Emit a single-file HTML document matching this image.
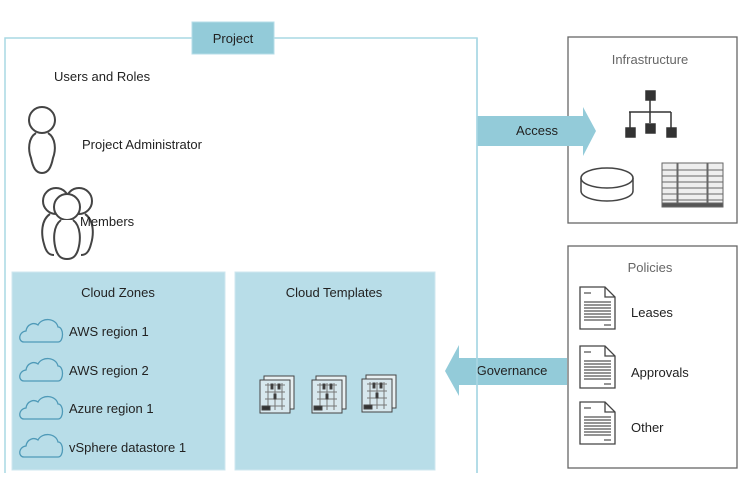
<!DOCTYPE html>
<html><head><meta charset="utf-8"><style>
body{margin:0;background:#fff}
svg text{font-family:"Liberation Sans",sans-serif;font-size:13px;fill:#222}
</style></head><body>
<svg width="748" height="473" viewBox="0 0 748 473" xmlns="http://www.w3.org/2000/svg">
<rect x="5" y="38" width="472" height="440" fill="none" stroke="#a9d8e4" stroke-width="1.5"/>
<rect x="192" y="22" width="82" height="32" fill="#93cbd9" stroke="#b5dde8"/>
<text x="233" y="43" text-anchor="middle">Project</text>
<text x="54" y="81">Users and Roles</text>
<g fill="none" stroke="#444" stroke-width="2">
<circle cx="42" cy="120" r="13"/>
<path d="M36 133 C28 138 28 150 31 158 C33 168 36 173 42 173 C48 173 51 168 53 158 C56 150 56 138 48 133"/>
<circle cx="56" cy="201" r="13"/><circle cx="79" cy="201" r="13"/>
<path d="M50 214 C41 220 41 234 44 244 C46 252 49 255 54 255"/>
<path d="M85 214 C94 220 94 234 91 244 C89 252 86 255 81 255"/>
<circle cx="67" cy="207" r="13" fill="#fff"/>
<path d="M61 220 C53 226 53 240 56 250 C58 256 61 259 67 259 C73 259 76 256 78 250 C81 240 81 226 73 220" fill="#fff"/>
</g>
<text x="82" y="149">Project Administrator</text>
<text x="80" y="226">Members</text>
<rect x="12" y="272" width="213" height="198" fill="#b8dde8" stroke="#cfe7ef"/>
<text x="118" y="297" text-anchor="middle">Cloud Zones</text>
<g fill="none" stroke="#4f9ab8" stroke-width="1.3">
<path id="cl" d="M24 342 C18 342 18 332 26 331 C27 324 34 322 38 325 C42 317 56 318 58 327 C64 327 64 342 58 342 Z"/>
<use href="#cl" y="39"/><use href="#cl" y="77"/><use href="#cl" y="115"/>
</g>
<text x="69" y="336">AWS region 1</text>
<text x="69" y="375">AWS region 2</text>
<text x="69" y="413">Azure region 1</text>
<text x="69" y="452">vSphere datastore 1</text>
<rect x="235" y="272" width="200" height="198" fill="#b8dde8" stroke="#cfe7ef"/>
<text x="334" y="297" text-anchor="middle">Cloud Templates</text>
<g id="tp" stroke="#444" stroke-width="1" fill="#d8e8ee">
<rect x="264" y="376" width="30" height="33" fill="#e8f0f2"/>
<rect x="260" y="380" width="30" height="33"/>
<path d="M265 385h20M265 392h20M265 399h20M265 406h20M268 383v27M275 383v27M282 383v27" stroke="#777"/>
<rect x="262" y="406" width="8" height="4" fill="#333"/>
<rect x="271" y="384" width="2" height="5" fill="#333"/><rect x="278" y="384" width="2" height="5" fill="#333"/><rect x="274" y="394" width="2" height="5" fill="#333"/>
</g>
<use href="#tp" x="52"/><use href="#tp" x="102" y="-1"/>
<!-- Infrastructure -->
<rect x="568" y="37" width="169" height="186" fill="#fff" stroke="#666" stroke-width="1.3"/>
<text x="650" y="64" text-anchor="middle" style="fill:#666">Infrastructure</text>
<g fill="#333" stroke="#333" stroke-width="1.5">
<rect x="646" y="91" width="9" height="9"/>
<path d="M650 100v23M629 112h42M630 112v17M671 112v17" fill="none"/>
<rect x="626" y="128" width="9" height="9"/><rect x="646" y="124" width="9" height="9"/><rect x="667" y="128" width="9" height="9"/>
</g>
<g fill="#fff" stroke="#444" stroke-width="1.5">
<path d="M581 178 v13 a26 10 0 0 0 52 0 v-13"/>
<ellipse cx="607" cy="178" rx="26" ry="10"/>
</g>
<g fill="#eee" stroke="#666" stroke-width="1">
<rect x="662" y="163" width="15" height="42"/><rect x="678" y="163" width="29" height="42"/><rect x="708" y="163" width="15" height="42"/>
<path d="M662 170h61M662 176h61M662 182h61M662 188h61M662 194h61M662 200h61"/>
<rect x="662" y="203" width="61" height="4" fill="#555"/>
</g>
<!-- Policies -->
<rect x="568" y="246" width="169" height="222" fill="#fff" stroke="#666" stroke-width="1.3"/>
<text x="650" y="272" text-anchor="middle" style="fill:#666">Policies</text>
<g id="doc" fill="#fff" stroke="#444" stroke-width="1.3">
<path d="M580 287h25l10 10v32h-35z"/>
<path d="M605 287v10h10" fill="none"/>
<path d="M584 293h7M584 302h27M584 305h27M584 308h27M584 311h27M584 314h27M584 317h27M584 320h27M604 325h7" stroke="#555"/>
</g>
<use href="#doc" y="59"/><use href="#doc" y="115"/>
<text x="631" y="317">Leases</text>
<text x="631" y="377">Approvals</text>
<text x="631" y="432">Other</text>
<!-- Arrows -->
<polygon points="477,116 583,116 583,107 596,131 583,156 583,146 477,146" fill="#93cbd9"/>
<text x="537" y="135" text-anchor="middle">Access</text>
<polygon points="567,358 459,358 459,345 445,371 459,396 459,385 567,385" fill="#93cbd9"/>
<text x="512" y="375" text-anchor="middle">Governance</text>
<line x1="477" y1="38" x2="477" y2="473" stroke="#a9d8e4" stroke-width="1.5"/>
</svg>
</body></html>
